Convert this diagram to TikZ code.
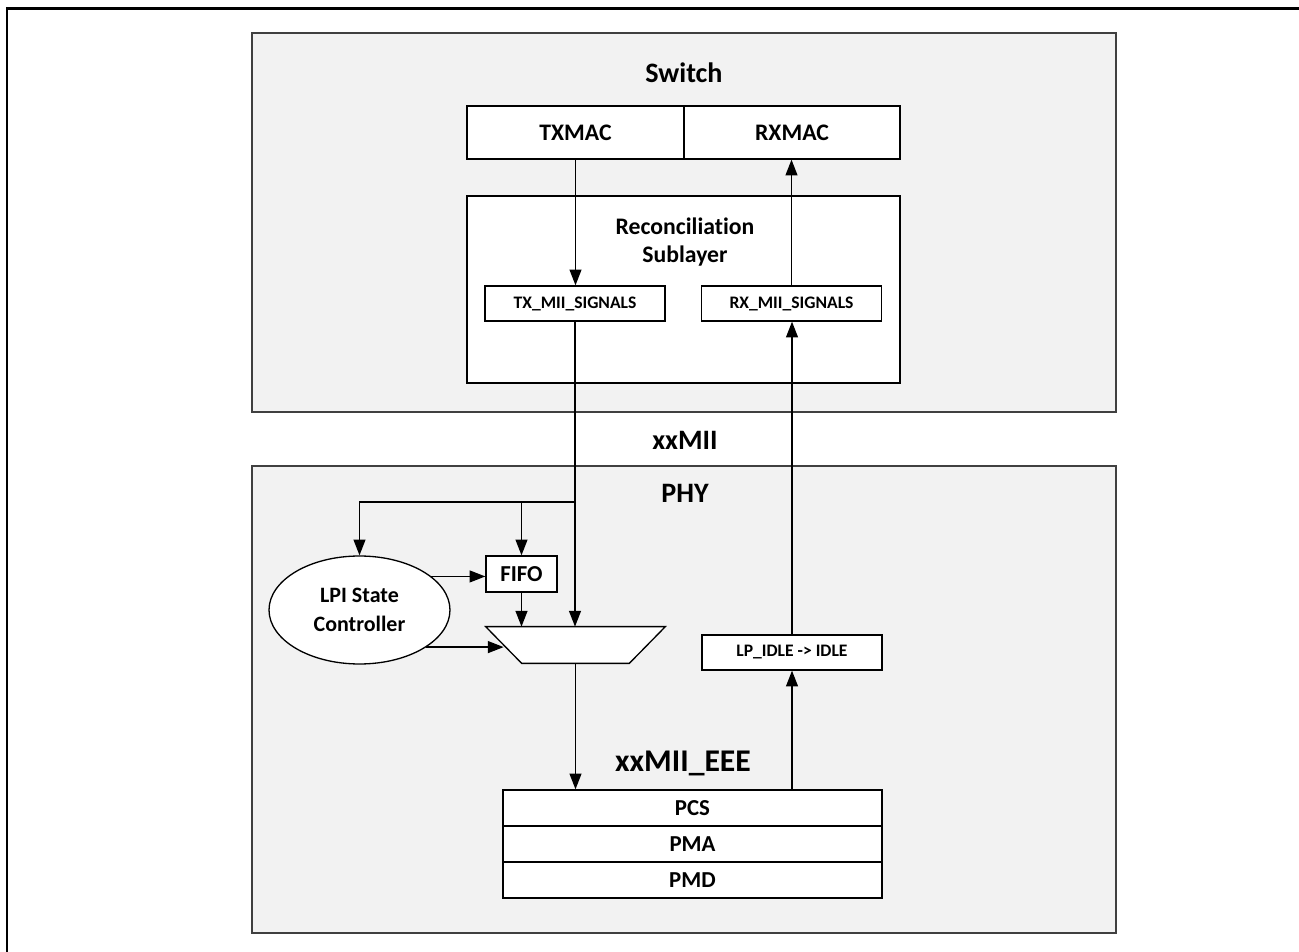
\documentclass[tikz,border=0pt]{standalone}
\usepackage{fontspec}
\setmainfont{Carlito}[Ligatures={NoCommon,NoContextual}]
\usetikzlibrary{positioning,arrows.meta,calc,shapes.geometric}

\begin{document}
\begin{tikzpicture}[
  x=0.02cm, y=-0.02cm,
  >={Triangle[length=9pt,width=6.8pt]},
  font=\bfseries,
  layer/.style={draw=black!75, line width=1pt, fill=black!5},
  blk/.style={draw, line width=0.75pt, fill=white, align=center, inner sep=0pt, font=\fontsize{13.5}{16}\selectfont\bfseries},
  sig/.style={draw, line width=0.75pt, fill=white, inner sep=0pt, minimum width=3.6cm, minimum height=0.7cm, font=\fontsize{10}{12}\selectfont\bfseries},
  stack/.style={draw, line width=0.75pt, fill=white, inner sep=0pt, minimum width=7.58cm, minimum height=0.72cm, font=\fontsize{13}{15}\selectfont\bfseries},
  title/.style={font=\fontsize{16}{19}\selectfont\bfseries},
  arr/.style={->, line width=0.8pt}
]
\useasboundingbox (0,0) rectangle (1299,952);
\draw[line width=1.7pt] (7,952) -- (7,8.5) -- (1299,8.5);

\node[layer, minimum width=17.28cm, minimum height=7.58cm] (switch) at (684,222.5) {};
\node[layer, minimum width=17.28cm, minimum height=9.34cm] (phy) at (684,699.5) {};
\node[title] (switch_lbl) at (684,73) {Switch};
\node[title] (phy_lbl) at (685,493) {PHY};
\node[title] (xxmii) at (685,440) {xxMII};
\node[title, font=\fontsize{18}{21}\selectfont\bfseries] (xxmii_eee) at (683,763) {xxMII\_EEE};

\node[blk, minimum width=4.34cm, minimum height=1.06cm] (txmac) at (575.5,132.5) {TXMAC};
\node[blk, minimum width=4.32cm, minimum height=1.06cm] (rxmac) at (792,132.5) {RXMAC};
\node[blk, minimum width=8.66cm, minimum height=3.74cm] (rs) at (683.5,289.5) {};
\node[font=\fontsize{13.5}{16}\selectfont\bfseries, align=center] (rs_lbl) at (685,242) {Reconciliation\\Sublayer};
\node[sig] (txmii) at (575,303.5) {TX\_MII\_SIGNALS};
\node[sig] (rxmii) at (791.5,303.5) {RX\_MII\_SIGNALS};

\node[blk, ellipse, minimum width=3.62cm, minimum height=2.16cm, font=\fontsize{12.5}{16.5}\selectfont\bfseries] (lpi) at (359.5,610) {LPI State\\Controller};
\node[blk, minimum width=1.42cm, minimum height=0.72cm, font=\fontsize{13}{15}\selectfont\bfseries] (fifo) at (521.5,574) {FIFO};
% multiplexer
\node[inner sep=0pt, minimum width=3.58cm, minimum height=0.72cm] (mux) at (575.5,645) {};
\draw[line width=0.75pt, fill=white] (mux.north west) -- (mux.north east) -- ($(mux.south east)+(-36,0)$) -- ($(mux.south west)+(36,0)$) -- cycle;
\coordinate (mux_in) at ($(mux.west)+(18,0)$);
\node[sig] (lpidle) at (792,652.5) {LP\_IDLE -> IDLE};

\node[stack] (pcs) at (692.5,808) {PCS};
\node[stack] (pma) at (692.5,844) {PMA};
\node[stack] (pmd) at (692.5,880) {PMD};

\coordinate (split) at (576,502);

% transmit path
\draw[arr] (txmac.south) -- (txmac.south |- txmii.north);
\draw[arr] (txmii.south) -- (txmii.south |- mux.north);
\draw[arr] (split) -| (lpi.north);
\draw[arr] (fifo.north |- split) -- (fifo.north);
\draw[arr] (lpi.25.8) -- (lpi.25.8 -| fifo.west);
\draw[arr] (fifo.south) -- (fifo.south |- mux.north);
\draw[arr] (lpi.-29.3) -- (lpi.-29.3 -| mux_in);
\draw[arr] (mux.south) -- (mux.south |- pcs.north);

% receive path
\draw[arr] (lpidle.south |- pcs.north) -- (lpidle.south);
\draw[arr] (lpidle.north) -- (lpidle.north |- rxmii.south);
\draw[arr] (rxmii.north) -- (rxmii.north |- rxmac.south);
\end{tikzpicture}
\end{document}
